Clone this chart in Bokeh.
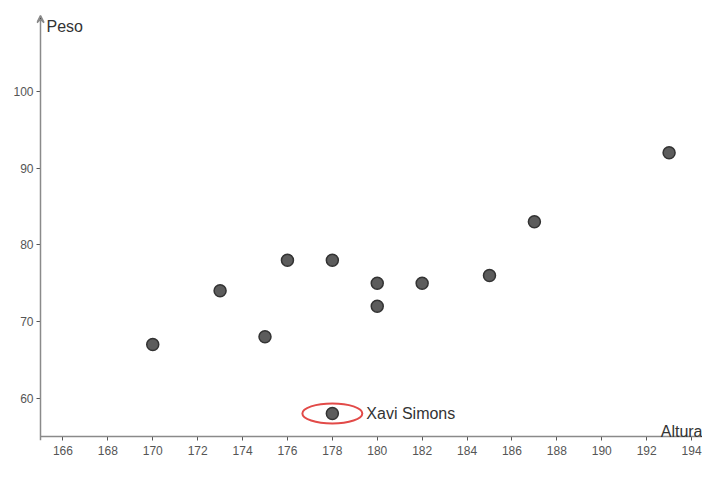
from bokeh.plotting import figure
from bokeh.models import Range1d, FixedTicker, Label, Arrow, VeeHead, ColumnDataSource
from bokeh.embed import file_html
from bokeh.resources import INLINE

# ---- data ----
altura = [170, 173, 175, 176, 178, 180, 180, 182, 185, 187, 193]
peso = [67, 74, 68, 78, 78, 75, 72, 75, 76, 83, 92]
xavi_altura = [178]
xavi_peso = [58]
xavi_nombre = "Xavi Simons"
x_ticks = [166, 168, 170, 172, 174, 176, 178, 180, 182, 184, 186, 188, 190, 192, 194]
y_ticks = [60, 70, 80, 90, 100]
x_title = "Altura"
y_title = "Peso"

FONT = "Liberation Sans"
AXIS_COLOR = "#8a8a8a"
X0, Y0 = 165, 55          # where the axes cross
XS, XE = 164.822, 194.488
YS, YE = 54.478, 111.87

p = figure(width=702, height=469, output_backend="svg", toolbar_location=None,
           x_range=Range1d(XS, XE), y_range=Range1d(YS, YE),
           min_border_left=36, min_border_bottom=29, min_border_top=0, min_border_right=0)
p.outline_line_color = None
p.grid.visible = False
p.background_fill_color = "white"
p.border_fill_color = "white"

p.xaxis.ticker = FixedTicker(ticks=x_ticks)
p.yaxis.ticker = FixedTicker(ticks=y_ticks)
for ax in (p.xaxis, p.yaxis):
    ax.axis_line_color = None
    ax.major_tick_line_color = "#555555"
    ax.major_tick_out = 0
    ax.major_tick_in = 4
    ax.minor_tick_line_color = None
    ax.major_label_text_font = FONT
    ax.major_label_text_font_size = "12px"
    ax.major_label_text_color = "#555555"
p.yaxis.major_label_standoff = 3
p.xaxis.major_label_standoff = 5

# axis lines: x axis starts at the y axis, y axis ends in an arrow head
p.add_layout(Arrow(x_start=X0, y_start=Y0, x_end=XE, y_end=Y0,
                   line_color=AXIS_COLOR, line_width=1.5, end=None))
p.add_layout(Arrow(x_start=X0, y_start=YS, x_end=X0, y_end=109.9,
                   line_color=AXIS_COLOR, line_width=1.5,
                   end=VeeHead(size=7, line_color=AXIS_COLOR, line_width=1.5)))

# points
src = ColumnDataSource(dict(x=altura, y=peso))
p.scatter("x", "y", source=src, size=12, fill_color="#5c5c5c", line_color="#333333", line_width=1.5)

xsrc = ColumnDataSource(dict(x=xavi_altura, y=xavi_peso))
p.ellipse("x", "y", source=xsrc, width=2.67, height=2.61, fill_color=None,
          line_color="#e24a48", line_width=2)
p.scatter("x", "y", source=xsrc, size=12, fill_color="#5c5c5c", line_color="#333333", line_width=1.5)

p.add_layout(Label(x=xavi_altura[0], y=xavi_peso[0], x_offset=34, text=xavi_nombre,
                   text_baseline="middle", text_font=FONT, text_font_size="16px",
                   text_color="#333333"))

# axis titles
p.add_layout(Label(x=X0, y=108.5, x_offset=6, text=y_title, text_baseline="middle",
                   text_font=FONT, text_font_size="16px", text_color="#333333"))
p.add_layout(Label(x=XE, y=Y0, y_offset=5, text=x_title, text_align="right",
                   text_baseline="alphabetic", text_font=FONT, text_font_size="16px",
                   text_color="#333333"))

open("out.html", "w").write(file_html(p, INLINE))
